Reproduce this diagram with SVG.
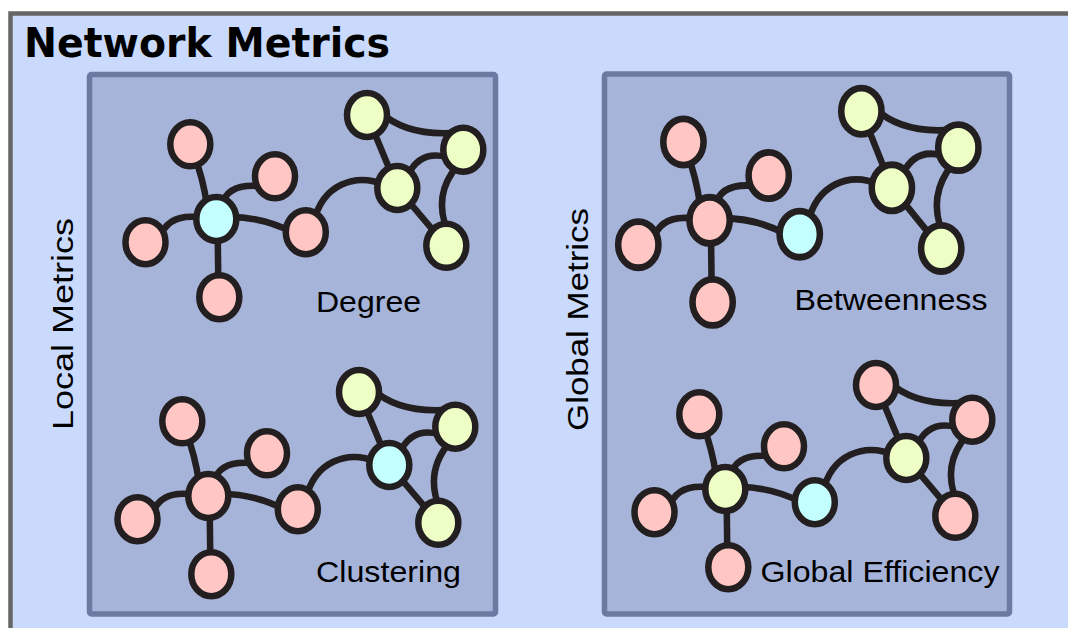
<svg xmlns="http://www.w3.org/2000/svg" width="1068" height="628" viewBox="0 0 1068 628">
<style>
.edge{fill:none;stroke:#231f20;stroke-width:6.5;stroke-linecap:round}
.node{stroke:#231f20;stroke-width:6.5}
.p{fill:#ffc6c3}.y{fill:#eeffc5}.c{fill:#c3ffff}
.panel{fill:#a6b4da;stroke:#6a7aa0;stroke-width:5.5}
.lbl{font-family:"Liberation Sans",Arial,sans-serif;font-size:30px;fill:#000}
.title{font-family:"DejaVu Sans",Verdana,sans-serif;font-weight:bold;font-size:40px;fill:#000}
</style>
<defs>
<g id="edges-tpl">
<path d="M194,155 Q203,178 207,205"/>
<path d="M222,205 Q227,184 258,186"/>
<path d="M160,238 Q167,214 198,217"/>
<path d="M217.5,219 L218.5,297"/>
<path d="M230,217 Q262,217 292,232"/>
<path d="M314,222 C322,185 355,172 385,185"/>
<path d="M380,112 Q405,135 450,133"/>
<path d="M367,115 L397.3,188"/>
<path d="M408,175 Q420,150 447,157"/>
<path d="M397.3,188 L446.3,245.8"/>
<path d="M458,165 Q432,195 448,232"/>
</g>
</defs>
<rect id="frame" x="10.5" y="13.5" width="1100" height="660" fill="#c9dafc" stroke="#666" stroke-width="4.5"/>
<text class="title" x="24" y="57" textLength="366" lengthAdjust="spacingAndGlyphs">Network Metrics</text>
<rect id="panel-local" class="panel" x="89.5" y="74.5" width="406" height="539.5" rx="2"/>
<rect id="panel-global" class="panel" x="604.5" y="74" width="405" height="540" rx="2"/>
<text class="lbl" transform="translate(72.5,430) rotate(-90)" textLength="212" lengthAdjust="spacingAndGlyphs">Local Metrics</text>
<text class="lbl" transform="translate(587.5,431) rotate(-90)" textLength="223" lengthAdjust="spacingAndGlyphs">Global Metrics</text>

<g id="net-degree">
<g id="degree-connectors" class="edge"><use href="#edges-tpl"/></g>
<g id="degree-n1"><ellipse class="node p" cx="190.3" cy="144.3" rx="20" ry="22"/></g>
<g id="degree-n2"><ellipse class="node p" cx="275" cy="176.3" rx="20" ry="22"/></g>
<g id="degree-n3"><ellipse class="node c" cx="216.3" cy="219" rx="20" ry="22"/></g>
<g id="degree-n4"><ellipse class="node p" cx="145.5" cy="242.2" rx="20" ry="22"/></g>
<g id="degree-n5"><ellipse class="node p" cx="219.3" cy="297.2" rx="20" ry="22"/></g>
<g id="degree-n6"><ellipse class="node p" cx="305.8" cy="232.2" rx="20" ry="22"/></g>
<g id="degree-n7"><ellipse class="node y" cx="367" cy="115" rx="20" ry="22"/></g>
<g id="degree-n8"><ellipse class="node y" cx="463.3" cy="149.7" rx="20" ry="22"/></g>
<g id="degree-n9"><ellipse class="node y" cx="397.3" cy="188" rx="20" ry="22"/></g>
<g id="degree-n10"><ellipse class="node y" cx="446.3" cy="245.8" rx="20" ry="22"/></g>
</g>
<text class="lbl" x="316" y="312" textLength="105" lengthAdjust="spacingAndGlyphs">Degree</text>

<g id="net-clustering" transform="translate(-8,277)">
<g id="clustering-connectors" class="edge"><use href="#edges-tpl"/></g>
<g id="clustering-n1"><ellipse class="node p" cx="190.3" cy="144.3" rx="20" ry="22"/></g>
<g id="clustering-n2"><ellipse class="node p" cx="275" cy="176.3" rx="20" ry="22"/></g>
<g id="clustering-n3"><ellipse class="node p" cx="216.3" cy="219" rx="20" ry="22"/></g>
<g id="clustering-n4"><ellipse class="node p" cx="145.5" cy="242.2" rx="20" ry="22"/></g>
<g id="clustering-n5"><ellipse class="node p" cx="219.3" cy="297.2" rx="20" ry="22"/></g>
<g id="clustering-n6"><ellipse class="node p" cx="305.8" cy="232.2" rx="20" ry="22"/></g>
<g id="clustering-n7"><ellipse class="node y" cx="367" cy="115" rx="20" ry="22"/></g>
<g id="clustering-n8"><ellipse class="node y" cx="463.3" cy="149.7" rx="20" ry="22"/></g>
<g id="clustering-n9"><ellipse class="node c" cx="397.3" cy="188" rx="20" ry="22"/></g>
<g id="clustering-n10"><ellipse class="node y" cx="446.3" cy="245.8" rx="20" ry="22"/></g>
</g>
<text class="lbl" x="316" y="582" textLength="145" lengthAdjust="spacingAndGlyphs">Clustering</text>

<g id="net-betweenness" transform="matrix(1.007 0 0 1.049 491.8 -9.4)">
<g id="betweenness-connectors" class="edge"><use href="#edges-tpl"/></g>
<g id="betweenness-n1"><ellipse class="node p" cx="190.3" cy="144.3" rx="20" ry="22"/></g>
<g id="betweenness-n2"><ellipse class="node p" cx="275" cy="176.3" rx="20" ry="22"/></g>
<g id="betweenness-n3"><ellipse class="node p" cx="216.3" cy="219" rx="20" ry="22"/></g>
<g id="betweenness-n4"><ellipse class="node p" cx="145.5" cy="242.2" rx="20" ry="22"/></g>
<g id="betweenness-n5"><ellipse class="node p" cx="219.3" cy="297.2" rx="20" ry="22"/></g>
<g id="betweenness-n6"><ellipse class="node c" cx="305.8" cy="232.2" rx="20" ry="22"/></g>
<g id="betweenness-n7"><ellipse class="node y" cx="367" cy="115" rx="20" ry="22"/></g>
<g id="betweenness-n8"><ellipse class="node y" cx="463.3" cy="149.7" rx="20" ry="22"/></g>
<g id="betweenness-n9"><ellipse class="node y" cx="397.3" cy="188" rx="20" ry="22"/></g>
<g id="betweenness-n10"><ellipse class="node y" cx="446.3" cy="245.8" rx="20" ry="22"/></g>
</g>
<text class="lbl" x="794.5" y="310" textLength="193" lengthAdjust="spacingAndGlyphs">Betweenness</text>

<g id="net-efficiency" transform="translate(509,270)">
<g id="efficiency-connectors" class="edge"><use href="#edges-tpl"/></g>
<g id="efficiency-n1"><ellipse class="node p" cx="190.3" cy="144.3" rx="20" ry="22"/></g>
<g id="efficiency-n2"><ellipse class="node p" cx="275" cy="176.3" rx="20" ry="22"/></g>
<g id="efficiency-n3"><ellipse class="node y" cx="216.3" cy="219" rx="20" ry="22"/></g>
<g id="efficiency-n4"><ellipse class="node p" cx="145.5" cy="242.2" rx="20" ry="22"/></g>
<g id="efficiency-n5"><ellipse class="node p" cx="219.3" cy="297.2" rx="20" ry="22"/></g>
<g id="efficiency-n6"><ellipse class="node c" cx="305.8" cy="232.2" rx="20" ry="22"/></g>
<g id="efficiency-n7"><ellipse class="node p" cx="367" cy="115" rx="20" ry="22"/></g>
<g id="efficiency-n8"><ellipse class="node p" cx="463.3" cy="149.7" rx="20" ry="22"/></g>
<g id="efficiency-n9"><ellipse class="node y" cx="397.3" cy="188" rx="20" ry="22"/></g>
<g id="efficiency-n10"><ellipse class="node p" cx="446.3" cy="245.8" rx="20" ry="22"/></g>
</g>
<text class="lbl" x="760.5" y="582" textLength="239" lengthAdjust="spacingAndGlyphs">Global Efficiency</text>
</svg>
